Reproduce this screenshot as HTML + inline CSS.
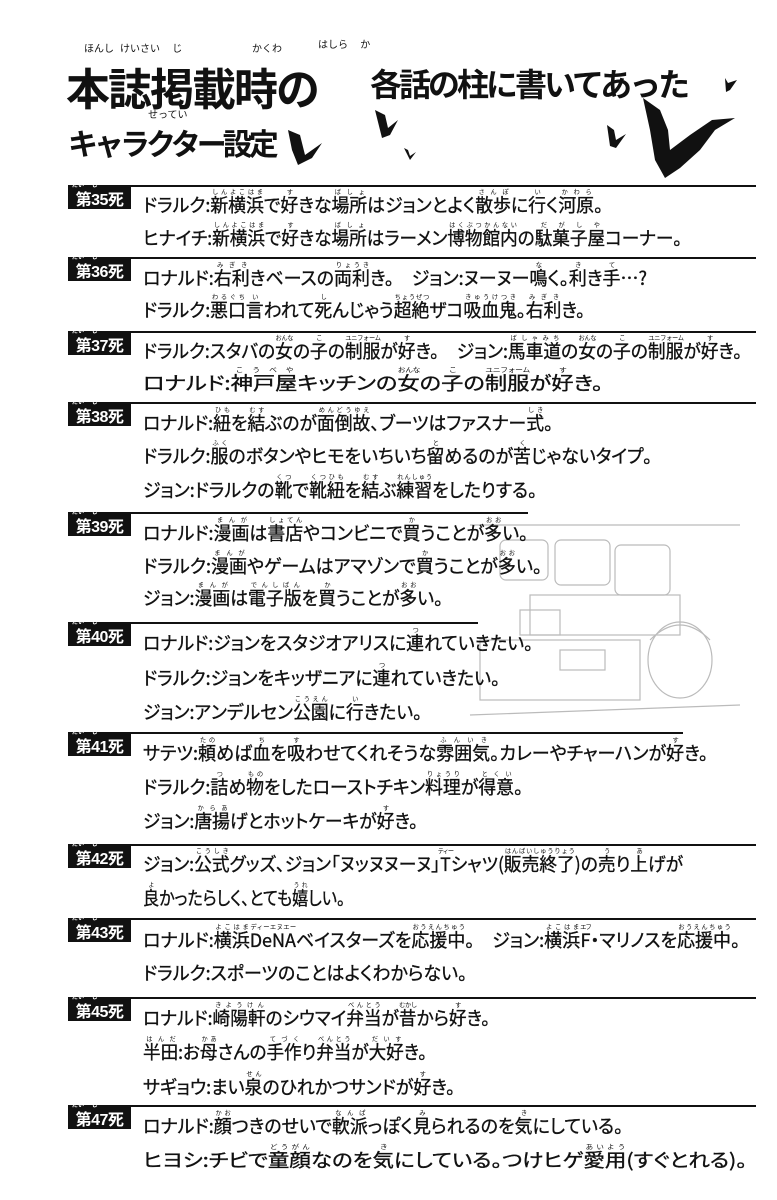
<!DOCTYPE html>
<html lang="ja"><head><meta charset="utf-8">
<style>
html,body{margin:0;padding:0;background:#fff;}
body{width:777px;height:1200px;position:relative;overflow:hidden;font-family:"Liberation Sans","Noto Sans CJK JP",sans-serif;color:#111;}
.rule{position:absolute;left:68px;width:688px;height:2px;background:#111;}
.lab{position:absolute;left:68px;width:63px;height:22px;background:#111;color:#fff;font-size:16px;font-weight:bold;line-height:27px;text-align:center;letter-spacing:-0.5px;}
.lab:before{content:"だい　 し";position:absolute;left:4px;top:-5px;font-size:6px;line-height:8px;letter-spacing:0;}
.ln{position:absolute;left:143px;font-size:18.5px;line-height:34px;white-space:nowrap;-webkit-text-stroke:0.35px #111;font-family:"Noto Sans CJK JP",sans-serif;font-feature-settings:"palt" 1;transform-origin:0 50%;}
rt{font-size:6.5px;letter-spacing:-1px;-webkit-text-stroke:0;font-feature-settings:normal;}
.t{position:absolute;font-family:"Noto Sans CJK JP",sans-serif;font-weight:bold;color:#111;white-space:nowrap;}
.f{position:absolute;font-size:10px;font-family:"Noto Sans CJK JP",sans-serif;}
</style></head><body>

<div class="f" style="left:84px;top:40px">ほんし</div>
<div class="f" style="left:120px;top:40px">けいさい　 じ</div>
<div class="f" style="left:252px;top:40px">かくわ</div>
<div class="f" style="left:318px;top:36px">はしら　 か</div>
<div class="t" style="left:66px;top:54px;font-size:44px;letter-spacing:-2px;">本誌掲載時の</div>
<div class="t" style="left:370px;top:60px;font-size:32px;letter-spacing:-3px">各話の柱に書いてあった</div>
<div class="f" style="left:148px;top:106px">せってい</div>
<div class="t" style="left:68px;top:120px;font-size:30px;letter-spacing:-4px">キャラクター設定</div>

<svg style="position:absolute;left:0;top:0" width="777" height="180">
<g fill="#111">
<path d="M288 130 L300 135 L305 155 L322 143 L312 158 L298 165 L292 150 Z"/>
<path d="M375 110 L385 115 L388 128 L398 120 L390 135 L382 138 Z"/>
<path d="M404 148 L408 150 L410 156 L416 152 L410 160 Z"/>
<path d="M607 125 L614 130 L616 140 L626 134 L616 148 L610 146 Z"/>
<path d="M725 78 L728 83 L737 80 L730 90 L726 92 Z"/>
<path d="M643 98 L660 110 L668 130 L670 150 L690 135 L712 120 L735 118 L715 130 L700 150 L680 168 L665 178 L655 160 L650 130 Z"/>
</g></svg>

<svg style="position:absolute;left:0;top:0" width="777" height="1200">
<g fill="none" stroke="#bbb" stroke-width="1.2">
<path d="M470 525 L740 525"/>
<rect x="500" y="540" width="48" height="40" rx="6"/>
<rect x="555" y="540" width="55" height="45" rx="6"/>
<rect x="615" y="545" width="55" height="50" rx="6"/>
<rect x="530" y="595" width="150" height="40"/>
<rect x="480" y="640" width="160" height="60"/>
<rect x="520" y="610" width="40" height="25"/>
<rect x="560" y="650" width="45" height="20"/>
<ellipse cx="680" cy="660" rx="32" ry="38"/>
<path d="M650 640 Q680 610 710 640"/>
<path d="M470 715 L740 705"/>
</g></svg>

<div class="rule" style="top:185px"></div><div class="lab" style="top:187px">第35死</div>
<div class="ln" style="top:188px">ドラルク:<ruby>新横浜<rt>しんよこはま</rt></ruby>で<ruby>好<rt>す</rt></ruby>きな<ruby>場所<rt>ばしょ</rt></ruby>はジョンとよく<ruby>散歩<rt>さんぽ</rt></ruby>に<ruby>行<rt>い</rt></ruby>く<ruby>河原<rt>かわら</rt></ruby>。</div>
<div class="ln" style="top:221px">ヒナイチ:<ruby>新横浜<rt>しんよこはま</rt></ruby>で<ruby>好<rt>す</rt></ruby>きな<ruby>場所<rt>ばしょ</rt></ruby>はラーメン<ruby>博物館内<rt>はくぶつかんない</rt></ruby>の<ruby>駄菓子屋<rt>だがしや</rt></ruby>コーナー。</div>

<div class="rule" style="top:257px"></div><div class="lab" style="top:259px">第36死</div>
<div class="ln" style="top:261px">ロナルド:<ruby>右利<rt>みぎき</rt></ruby>きベースの<ruby>両利<rt>りょうき</rt></ruby>き。　ジョン:ヌーヌー<ruby>鳴<rt>な</rt></ruby>く。<ruby>利<rt>き</rt></ruby>き<ruby>手<rt>て</rt></ruby>…?</div>
<div class="ln" style="top:293px">ドラルク:<ruby>悪口<rt>わるぐち</rt></ruby><ruby>言<rt>い</rt></ruby>われて<ruby>死<rt>し</rt></ruby>んじゃう<ruby>超絶<rt>ちょうぜつ</rt></ruby>ザコ<ruby>吸血鬼<rt>きゅうけつき</rt></ruby>。<ruby>右利<rt>みぎき</rt></ruby>き。</div>

<div class="rule" style="top:331px"></div><div class="lab" style="top:333px">第37死</div>
<div class="ln" style="top:334px">ドラルク:スタバの<ruby>女<rt>おんな</rt></ruby>の<ruby>子<rt>こ</rt></ruby>の<ruby>制服<rt>ユニフォーム</rt></ruby>が<ruby>好<rt>す</rt></ruby>き。　ジョン:<ruby>馬車道<rt>ばしゃみち</rt></ruby>の<ruby>女<rt>おんな</rt></ruby>の<ruby>子<rt>こ</rt></ruby>の<ruby>制服<rt>ユニフォーム</rt></ruby>が<ruby>好<rt>す</rt></ruby>き。</div>
<div class="ln" style="top:366px">ロナルド:<ruby>神戸屋<rt>こうべや</rt></ruby>キッチンの<ruby>女<rt>おんな</rt></ruby>の<ruby>子<rt>こ</rt></ruby>の<ruby>制服<rt>ユニフォーム</rt></ruby>が<ruby>好<rt>す</rt></ruby>き。</div>

<div class="rule" style="top:402px"></div><div class="lab" style="top:404px">第38死</div>
<div class="ln" style="top:406px">ロナルド:<ruby>紐<rt>ひも</rt></ruby>を<ruby>結<rt>むす</rt></ruby>ぶのが<ruby>面倒故<rt>めんどうゆえ</rt></ruby>、ブーツはファスナー<ruby>式<rt>しき</rt></ruby>。</div>
<div class="ln" style="top:439px">ドラルク:<ruby>服<rt>ふく</rt></ruby>のボタンやヒモをいちいち<ruby>留<rt>と</rt></ruby>めるのが<ruby>苦<rt>く</rt></ruby>じゃないタイプ。</div>
<div class="ln" style="top:473px">ジョン:ドラルクの<ruby>靴<rt>くつ</rt></ruby>で<ruby>靴紐<rt>くつひも</rt></ruby>を<ruby>結<rt>むす</rt></ruby>ぶ<ruby>練習<rt>れんしゅう</rt></ruby>をしたりする。</div>

<div class="rule" style="top:512px;width:460px"></div><div class="lab" style="top:514px">第39死</div>
<div class="ln" style="top:516px">ロナルド:<ruby>漫画<rt>まんが</rt></ruby>は<ruby>書店<rt>しょてん</rt></ruby>やコンビニで<ruby>買<rt>か</rt></ruby>うことが<ruby>多<rt>おお</rt></ruby>い。</div>
<div class="ln" style="top:549px">ドラルク:<ruby>漫画<rt>まんが</rt></ruby>やゲームはアマゾンで<ruby>買<rt>か</rt></ruby>うことが<ruby>多<rt>おお</rt></ruby>い。</div>
<div class="ln" style="top:581px">ジョン:<ruby>漫画<rt>まんが</rt></ruby>は<ruby>電子版<rt>でんしばん</rt></ruby>を<ruby>買<rt>か</rt></ruby>うことが<ruby>多<rt>おお</rt></ruby>い。</div>

<div class="rule" style="top:622px;width:410px"></div><div class="lab" style="top:624px">第40死</div>
<div class="ln" style="top:626px">ロナルド:ジョンをスタジオアリスに<ruby>連<rt>つ</rt></ruby>れていきたい。</div>
<div class="ln" style="top:661px">ドラルク:ジョンをキッザニアに<ruby>連<rt>つ</rt></ruby>れていきたい。</div>
<div class="ln" style="top:695px">ジョン:アンデルセン<ruby>公園<rt>こうえん</rt></ruby>に<ruby>行<rt>い</rt></ruby>きたい。</div>

<div class="rule" style="top:732px;width:615px"></div><div class="lab" style="top:734px">第41死</div>
<div class="ln" style="top:736px">サテツ:<ruby>頼<rt>たの</rt></ruby>めば<ruby>血<rt>ち</rt></ruby>を<ruby>吸<rt>す</rt></ruby>わせてくれそうな<ruby>雰囲気<rt>ふんいき</rt></ruby>。カレーやチャーハンが<ruby>好<rt>す</rt></ruby>き。</div>
<div class="ln" style="top:770px">ドラルク:<ruby>詰<rt>つ</rt></ruby>め<ruby>物<rt>もの</rt></ruby>をしたローストチキン<ruby>料理<rt>りょうり</rt></ruby>が<ruby>得意<rt>とくい</rt></ruby>。</div>
<div class="ln" style="top:804px">ジョン:<ruby>唐揚<rt>からあ</rt></ruby>げとホットケーキが<ruby>好<rt>す</rt></ruby>き。</div>

<div class="rule" style="top:844px"></div><div class="lab" style="top:846px">第42死</div>
<div class="ln" style="top:847px">ジョン:<ruby>公式<rt>こうしき</rt></ruby>グッズ、ジョン「ヌッヌヌーヌ」<ruby>T<rt>ティー</rt></ruby>シャツ(<ruby>販売終了<rt>はんばいしゅうりょう</rt></ruby>)の<ruby>売<rt>う</rt></ruby>り<ruby>上<rt>あ</rt></ruby>げが</div>
<div class="ln" style="top:881px"><ruby>良<rt>よ</rt></ruby>かったらしく、とても<ruby>嬉<rt>うれ</rt></ruby>しい。</div>

<div class="rule" style="top:918px"></div><div class="lab" style="top:920px">第43死</div>
<div class="ln" style="top:923px">ロナルド:<ruby>横浜<rt>よこはま</rt></ruby><ruby>DeNA<rt>ディーエヌエー</rt></ruby>ベイスターズを<ruby>応援中<rt>おうえんちゅう</rt></ruby>。　ジョン:<ruby>横浜<rt>よこはま</rt></ruby><ruby>F<rt>エフ</rt></ruby>・マリノスを<ruby>応援中<rt>おうえんちゅう</rt></ruby>。</div>
<div class="ln" style="top:956px">ドラルク:スポーツのことはよくわからない。</div>

<div class="rule" style="top:997px"></div><div class="lab" style="top:999px">第45死</div>
<div class="ln" style="top:1001px">ロナルド:<ruby>崎陽軒<rt>きようけん</rt></ruby>のシウマイ<ruby>弁当<rt>べんとう</rt></ruby>が<ruby>昔<rt>むかし</rt></ruby>から<ruby>好<rt>す</rt></ruby>き。</div>
<div class="ln" style="top:1035px"><ruby>半田<rt>はんだ</rt></ruby>:お<ruby>母<rt>かあ</rt></ruby>さんの<ruby>手作<rt>てづく</rt></ruby>り<ruby>弁当<rt>べんとう</rt></ruby>が<ruby>大好<rt>だいす</rt></ruby>き。</div>
<div class="ln" style="top:1070px">サギョウ:まい<ruby>泉<rt>せん</rt></ruby>のひれかつサンドが<ruby>好<rt>す</rt></ruby>き。</div>

<div class="rule" style="top:1105px"></div><div class="lab" style="top:1107px">第47死</div>
<div class="ln" style="top:1109px">ロナルド:<ruby>顔<rt>かお</rt></ruby>つきのせいで<ruby>軟派<rt>なんぱ</rt></ruby>っぽく<ruby>見<rt>み</rt></ruby>られるのを<ruby>気<rt>き</rt></ruby>にしている。</div>
<div class="ln" style="top:1143px">ヒヨシ:チビで<ruby>童顔<rt>どうがん</rt></ruby>なのを<ruby>気<rt>き</rt></ruby>にしている。つけヒゲ<ruby>愛用<rt>あいよう</rt></ruby>(すぐとれる)。</div>

<script>
(function(){
var ends=[603,682,647,585,742,603,553,652,537,528,542,443,533,500,422,708,523,418,683,345,740,467,490,427,455,623,747];
var ls=document.querySelectorAll('.ln');
for(var i=0;i<ls.length&&i<ends.length;i++){
  var w=ls[i].getBoundingClientRect().width;
  if(w>0){ls[i].style.transform='scaleX('+((ends[i]-143)/w)+')';}
}
})();
</script>
</body></html>
